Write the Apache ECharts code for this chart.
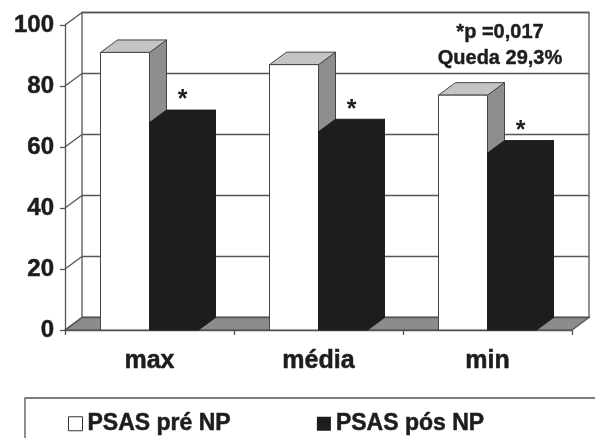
<!DOCTYPE html>
<html><head><meta charset="utf-8">
<script src="https://cdn.jsdelivr.net/npm/echarts@6/dist/echarts.min.js"></script>
<style>html,body{margin:0;padding:0;background:#fff}#c{width:595px;height:438px}</style>
</head><body><div id="c"></div>
<script>
const categories = ['max', 'média', 'min'];
const preNP = [91, 87, 77];
const posNP = [68, 65, 58];
const yTicks = [0, 20, 40, 60, 80, 100];
const seriesNames = ['PSAS pré NP', 'PSAS pós NP'];
const noteLines = ['*p =0,017', 'Queda 29,3%'];
const marker = '*';

const DX = 17, DY = -12.5;
const FONT = '"Liberation Sans", Arial, sans-serif';
const INK = '#1e1c1d';
const LINE = '#555';

function barRenderer(side, faces) {
  return function (params, api) {
    const idx = api.value(0);
    const v = api.value(1);
    const base = api.coord([idx, 0]);
    const top = api.coord([idx, v]);
    const bw = api.size([1, 0])[0];
    const w = bw * 0.29;
    const x0 = side === 'left' ? base[0] - w : base[0];
    const x1 = x0 + w;
    const y0 = base[1], y1 = top[1];
    const st = { stroke: faces.stroke, lineWidth: 1 };
    const children = [
      { type: 'polygon', shape: { points: [[x1, y1], [x1 + DX, y1 + DY], [x1 + DX, y0 + DY], [x1, y0]] }, style: Object.assign({ fill: faces.side }, st) },
      { type: 'polygon', shape: { points: [[x0, y1], [x0 + DX, y1 + DY], [x1 + DX, y1 + DY], [x1, y1]] }, style: Object.assign({ fill: faces.top }, st) },
      { type: 'rect', shape: { x: x0, y: y1, width: w, height: y0 - y1 }, style: Object.assign({ fill: faces.front }, st) }
    ];
    if (faces.mark) {
      children.push({ type: 'text', x: (x0 + x1) / 2 + DX / 2, y: y1 + DY + 3,
        style: { text: marker, font: 'bold 25px ' + FONT, fill: INK, align: 'center', verticalAlign: 'bottom' } });
    }
    return { type: 'group', children };
  };
}

function wallRenderer(params, api) {
  const cs = params.coordSys;
  const children = [];
  const x0 = cs.x, x1 = cs.x + cs.width;
  const yb = api.coord([0, yTicks[0]])[1];
  children.push({ type: 'polygon', shape: { points: [[x0, yb], [x0 + DX, yb + DY], [x1 + DX, yb + DY], [x1, yb]] },
    style: { fill: '#8c8c8c', stroke: LINE, lineWidth: 1.3 } });
  yTicks.forEach(function (t) {
    const y = api.coord([0, t])[1];
    children.push({ type: 'line', shape: { x1: x0, y1: y, x2: x0 + DX, y2: y + DY }, style: { stroke: LINE, lineWidth: 1.3 } });
  });
  return { type: 'group', children };
}

const boldText = { fontFamily: FONT, fontWeight: 'bold', color: INK, textBorderColor: INK, textBorderWidth: 0.5 };

const chart = echarts.init(document.getElementById('c'), null, { renderer: 'canvas' });
chart.setOption({
  animation: false,
  backgroundColor: '#fff',
  grid: [
    { left: 65, right: 23, top: 25, bottom: 108, show: false },
    { left: 65 + DX, right: 23 - DX, top: 25 + DY, bottom: 108 - DY, show: true, backgroundColor: '#fff', borderColor: LINE, borderWidth: 1.3 }
  ],
  xAxis: [
    { type: 'category', gridIndex: 0, data: categories,
      axisLine: { show: true, lineStyle: { color: LINE, width: 1.3 } },
      axisTick: { show: true, length: 5, lineStyle: { color: LINE, width: 1.3 } },
      axisLabel: Object.assign({ fontSize: 25, margin: 19 }, boldText) },
    { type: 'category', gridIndex: 1, data: categories, show: false }
  ],
  yAxis: [
    { type: 'value', gridIndex: 0, min: 0, max: 100, interval: 20,
      axisLine: { show: true, lineStyle: { color: LINE, width: 1.3 } },
      axisTick: { show: true, length: 5, lineStyle: { color: LINE, width: 1.3 } },
      splitLine: { show: false },
      axisLabel: Object.assign({ fontSize: 24, margin: 11 }, boldText) },
    { type: 'value', gridIndex: 1, min: 0, max: 100, interval: 20,
      axisLine: { show: false }, axisTick: { show: false }, axisLabel: { show: false },
      splitLine: { show: true, lineStyle: { color: LINE, width: 1.3 } } }
  ],
  legend: {
    left: 68, top: 412, padding: 0, itemWidth: 14, itemHeight: 14, itemGap: 86, icon: 'rect',
    textStyle: Object.assign({ fontSize: 23 }, boldText),
    data: [
      { name: seriesNames[0], itemStyle: { color: '#fff', borderColor: '#333', borderWidth: 1 } },
      { name: seriesNames[1], itemStyle: { color: INK } }
    ]
  },
  graphic: [
    { type: 'rect', shape: { x: 25, y: 398, width: 620, height: 80 }, style: { fill: 'none', stroke: LINE, lineWidth: 1.3 }, silent: true },
    { type: 'text', x: 500, y: 32, style: { text: noteLines[0], font: 'bold 20px ' + FONT, fill: INK, stroke: INK, lineWidth: 0.4, align: 'center', verticalAlign: 'middle' } },
    { type: 'text', x: 500, y: 58, style: { text: noteLines[1], font: 'bold 20px ' + FONT, fill: INK, stroke: INK, lineWidth: 0.4, align: 'center', verticalAlign: 'middle' } }
  ],
  series: [
    { type: 'custom', name: 'walls', xAxisIndex: 0, yAxisIndex: 0, data: [[0, 0]], renderItem: wallRenderer, silent: true, z: 1 },
    { type: 'custom', name: seriesNames[0], xAxisIndex: 0, yAxisIndex: 0, itemStyle: { color: '#fff' },
      data: preNP.map(function (v, i) { return [i, v]; }), encode: { x: 0, y: 1 },
      renderItem: barRenderer('left', { front: '#ffffff', top: '#c4c4c4', side: '#8e8e8e', stroke: '#444', mark: false }), z: 2 },
    { type: 'custom', name: seriesNames[1], xAxisIndex: 0, yAxisIndex: 0, itemStyle: { color: INK },
      data: posNP.map(function (v, i) { return [i, v]; }), encode: { x: 0, y: 1 },
      renderItem: barRenderer('right', { front: INK, top: INK, side: INK, stroke: INK, mark: true }), z: 3 }
  ]
});
</script></body></html>
